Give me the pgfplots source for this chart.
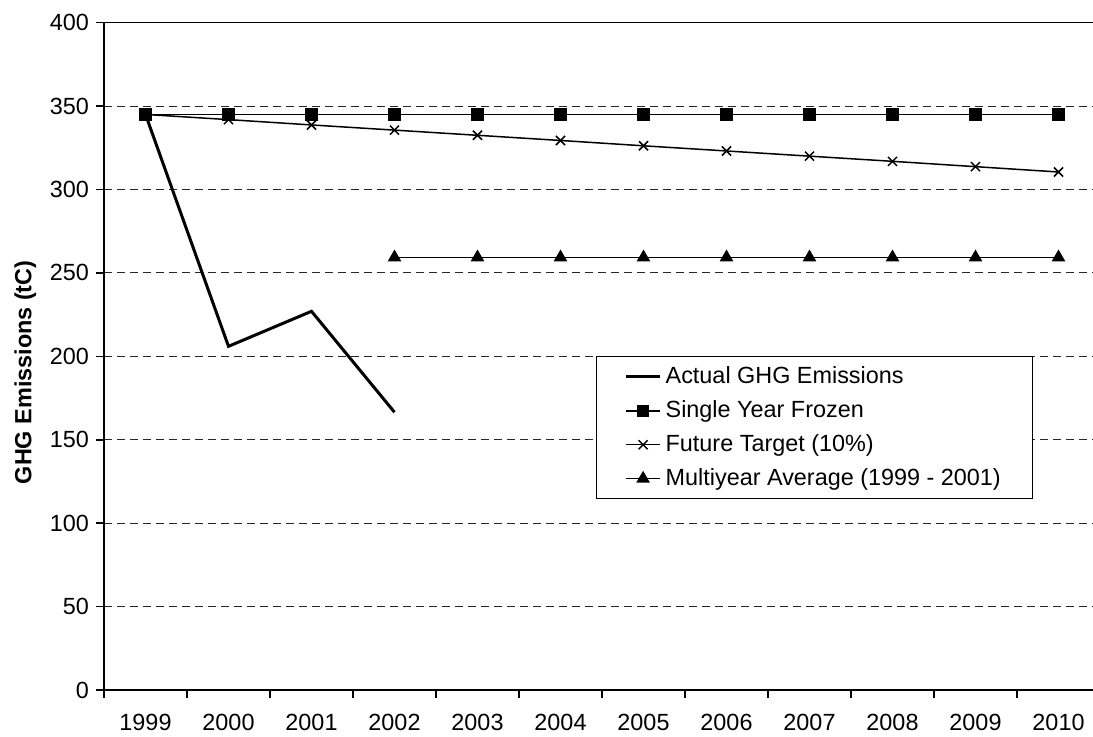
\documentclass[border=0pt]{standalone}
\usepackage{fontspec}
\setmainfont{Liberation Sans}
\usepackage{pgfplots}
\pgfplotsset{compat=1.18}

\newcommand{\chartfont}{\fontsize{11.7}{14}\selectfont}

\begin{document}
\begin{tikzpicture}
% picture is cropped on the right, as in the original
\clip (-52pt,-23.5pt) rectangle (494.5pt,345pt);
\begin{axis}[
    scale only axis,
    width=498pt, height=333.65pt,
    xmin=-0.5, xmax=11.5,
    ymin=0, ymax=400,
    ytick={0,50,...,400},
    xtick={0,...,11},
    xticklabels={1999,2000,2001,2002,2003,2004,2005,2006,2007,2008,2009,2010},
    minor xtick={-0.5,0.5,...,11.5},
    major x tick style={draw=none},
    xtick pos=bottom, ytick pos=left,
    tick align=outside,
    major tick length=4pt,
    minor tick length=4pt,
    x tick label style={yshift=-4.5pt},
    ymajorgrids,
    major grid style={black!85, line width=0.5pt, dash pattern=on 4pt off 2.5pt},
    axis line style={black, line width=0.8pt},
    tick style={black, line width=0.8pt},
    ticklabel style={font=\chartfont},
    /pgf/number format/assume math mode=true,
    ylabel={\textbf{GHG Emissions (tC)}},
    ylabel style={font=\chartfont, at={(ticklabel cs:0.5)}, xshift=-8pt},
    legend style={at={(0.494,0.5)}, anchor=north west, draw=black, line width=0.5pt,
        font=\chartfont, inner xsep=14pt, inner ysep=3pt, row sep=3pt,
        cells={anchor=west}},
    legend cell align=left,
]
\addplot[black, line width=1.5pt, mark=none] coordinates {
(0,345)(1,206)(2,227)(3,166.5)
};
\addlegendentry{Actual GHG Emissions}
\addplot[black, line width=0.75pt, mark=square*, mark size=2.75pt] coordinates {
(0,345)(1,345)(2,345)(3,345)(4,345)(5,345)(6,345)(7,345)(8,345)(9,345)(10,345)(11,345)
};
\addlegendentry{Single Year Frozen}
\addplot[black, line width=0.75pt, mark=x, mark size=3.2pt] coordinates {
(0,345)(1,341.9)(2,338.7)(3,335.6)(4,332.5)(5,329.4)(6,326.2)(7,323.1)(8,320.0)(9,316.9)(10,313.7)(11,310.5)
};
\addlegendentry{Future Target (10\%)}
\addplot[black, line width=0.75pt, mark=triangle*, mark size=3.2pt] coordinates {
(3,259.3)(4,259.3)(5,259.3)(6,259.3)(7,259.3)(8,259.3)(9,259.3)(10,259.3)(11,259.3)
};
\addlegendentry{Multiyear Average (1999 - 2001)}
\end{axis}
\end{tikzpicture}
\end{document}
